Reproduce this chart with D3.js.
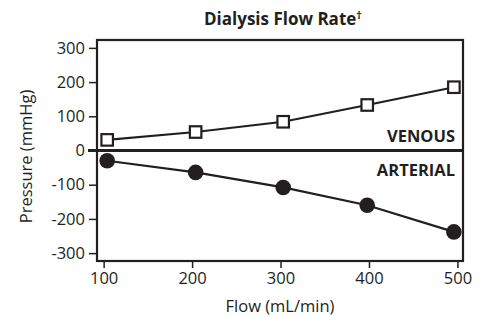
<!DOCTYPE html>
<html>
<head>
<meta charset="utf-8">
<script src="https://cdn.jsdelivr.net/npm/d3@7"></script>
<style>
  body { margin: 0; background: #fff; }
  svg text { font-family: "Open Sans", "Noto Sans", sans-serif; fill: #231f20; }
  .title { font-weight: bold; font-size: 17px; }
  .tick text { font-size: 16.5px; }
  .axis-label { font-size: 16.5px; }
  .series-label { font-weight: bold; font-size: 16.5px; }
</style>
</head>
<body>
<div id="chart"></div>
<script>
const flows = [104, 204, 303, 398, 496]
const venous = [31, 54, 84, 133, 185]
const arterial = [-30, -64, -108, -160, -238]
const xTicks = [100, 200, 300, 400, 500]
const yTicks = [300, 200, 100, 0, -100, -200, -300]

const width = 482
const height = 317
const margin = {top: 40, right: 19, bottom: 56, left: 97}
const chartWidth = width - margin.left - margin.right
const chartHeight = height - margin.top - margin.bottom
const ink = '#231f20'

const xScale = d3.scaleLinear().domain([92.5, 506.3]).range([0, chartWidth])
const yScale = d3.scaleLinear().domain([-323, 323]).range([chartHeight, 0])

const svg = d3.select('#chart').append('svg')
  .attr('width', width)
  .attr('height', height)

const title = svg.append('text')
  .attr('class', 'title')
  .attr('x', margin.left + chartWidth / 2 + 3)
  .attr('y', 25)
  .attr('text-anchor', 'middle')
title.append('tspan').text('Dialysis Flow Rate')
title.append('tspan')
  .attr('dy', -6)
  .style('font-size', '11px')
  .text('\u2020')

const g = svg.append('g')
  .attr('transform', `translate(${margin.left}, ${margin.top})`)

// axes, plain hyphen for negatives like the original
const yAxis = g.append('g')
  .call(d3.axisLeft(yScale).tickValues(yTicks).tickSize(8).tickPadding(4).tickFormat(d => String(d)))
const xAxis = g.append('g')
  .attr('transform', `translate(0, ${chartHeight})`)
  .call(d3.axisBottom(xScale).tickValues(xTicks).tickSize(7).tickPadding(4))

;[yAxis, xAxis].forEach(a => {
  a.select('.domain').remove()
  a.selectAll('.tick line').attr('stroke', ink).attr('stroke-width', 1.5)
  a.selectAll('.tick text').attr('fill', ink)
})

g.append('rect')
  .attr('x', 0)
  .attr('y', 0)
  .attr('width', chartWidth)
  .attr('height', chartHeight)
  .attr('fill', 'none')
  .attr('stroke', ink)
  .attr('stroke-width', 2.2)

// zero line
g.append('line')
  .attr('x1', -9)
  .attr('x2', chartWidth)
  .attr('y1', yScale(0))
  .attr('y2', yScale(0))
  .attr('stroke', ink)
  .attr('stroke-width', 3)

const line = d3.line()
  .x((d, i) => xScale(flows[i]))
  .y(d => yScale(d))

g.append('path')
  .datum(venous)
  .attr('d', line)
  .attr('fill', 'none')
  .attr('stroke', ink)
  .attr('stroke-width', 2.2)

g.append('path')
  .datum(arterial)
  .attr('d', line)
  .attr('fill', 'none')
  .attr('stroke', ink)
  .attr('stroke-width', 2.2)

const sq = 11.5
g.selectAll('.venous-pt')
  .data(venous)
  .enter()
  .append('rect')
  .attr('class', 'venous-pt')
  .attr('x', (d, i) => xScale(flows[i]) - sq / 2)
  .attr('y', d => yScale(d) - sq / 2)
  .attr('width', sq)
  .attr('height', sq)
  .attr('fill', '#fff')
  .attr('stroke', ink)
  .attr('stroke-width', 2.2)

g.selectAll('.arterial-pt')
  .data(arterial)
  .enter()
  .append('circle')
  .attr('class', 'arterial-pt')
  .attr('cx', (d, i) => xScale(flows[i]))
  .attr('cy', d => yScale(d))
  .attr('r', 7.8)
  .attr('fill', ink)

g.append('text')
  .attr('class', 'series-label')
  .attr('x', chartWidth - 8)
  .attr('y', yScale(0) - 9)
  .attr('text-anchor', 'end')
  .text('VENOUS')

g.append('text')
  .attr('class', 'series-label')
  .attr('x', chartWidth - 8)
  .attr('y', yScale(0) + 25)
  .attr('text-anchor', 'end')
  .text('ARTERIAL')

// axis labels
svg.append('text')
  .attr('class', 'axis-label')
  .attr('transform', `translate(32, ${margin.top + chartHeight / 2 + 6}) rotate(-90)`)
  .attr('text-anchor', 'middle')
  .text('Pressure (mmHg)')

svg.append('text')
  .attr('class', 'axis-label')
  .attr('x', margin.left + chartWidth / 2)
  .attr('y', 312)
  .attr('text-anchor', 'middle')
  .text('Flow (mL/min)')
</script>
</body>
</html>
